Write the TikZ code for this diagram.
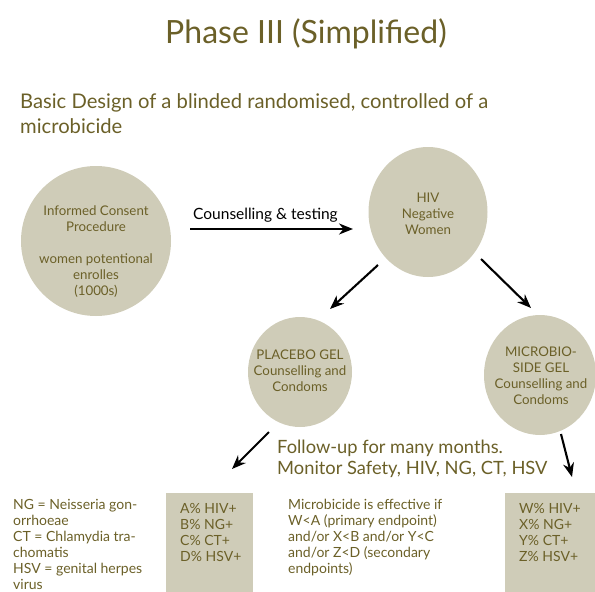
\documentclass[tikz,border=0pt]{standalone}
\usepackage{fontspec}
\setmainfont{Lato}
\usetikzlibrary{arrows.meta,shapes.geometric}
\definecolor{olive}{RGB}{107,96,40}
\definecolor{sand}{RGB}{207,204,184}
\tikzset{
  bubble/.style={ellipse,fill=sand,draw=none,inner sep=0pt},
  btxt/.style={text=olive,align=center,font=\fontsize{13.3}{16}\selectfont,inner sep=0pt},
  arr/.style={line width=2.1pt,-{Stealth[length=14pt,width=11pt]}},
  box/.style={fill=sand,draw=none,inner sep=0pt},
  ltxt/.style={text=olive,align=left,anchor=north west,inner sep=0pt,font=\fontsize{14}{16}\selectfont}
}
\begin{document}
\begin{tikzpicture}[x=1pt,y=-1pt]
\useasboundingbox (0,0) rectangle (595,592);
% title
\node[text=olive,anchor=base,inner sep=0pt,font=\fontsize{32}{36}\selectfont] (title) at (306,43) {Phase III (Simplified)};
\node[text=olive,anchor=base west,inner sep=0pt,font=\fontsize{20.2}{25}\selectfont] (sub1) at (20,108) {Basic Design of a blinded randomised, controlled of a};
\node[text=olive,anchor=base west,inner sep=0pt,font=\fontsize{20.2}{25}\selectfont] (sub2) at (20,133) {microbicide};
% bubbles
\node[bubble,minimum width=150pt,minimum height=150pt] (c1) at (96,241) {};
\node[btxt] (t1) at (96,252) {Informed Consent\\Procedure\\[16pt]women potentional\\enrolles\\(1000s)};
\node[bubble,minimum width=119pt,minimum height=130pt] (c2) at (428,212) {};
\node[btxt] (t2) at (428,214) {HIV\\Negative\\Women};
\node[bubble,minimum width=104pt,minimum height=110pt] (c3) at (300,372) {};
\node[btxt] (t3) at (300,371) {PLACEBO GEL\\Counselling and\\Condoms};
\node[bubble,minimum width=112pt,minimum height=120pt] (c4) at (540,375) {};
\node[btxt] (t4) at (541,376) {MICROBIO-\\SIDE GEL\\Counselling and\\Condoms};
% arrows
\coordinate (a1s) at (190,229);
\coordinate (a1e) at (353,229);
\draw[arr] (a1s) -- (a1e);
\node[anchor=base west,inner sep=0pt,font=\fontsize{15.5}{17}\selectfont] (lab1) at (193,219) {Counselling \& testing};
\coordinate (a2s) at (378,265);
\coordinate (a2e) at (330,309);
\draw[arr] (a2s) -- (a2e);
\coordinate (a3s) at (481,259);
\coordinate (a3e) at (531,308);
\draw[arr] (a3s) -- (a3e);
\coordinate (a4s) at (269,432);
\coordinate (a4e) at (232,469);
\draw[arr] (a4s) -- (a4e);
\coordinate (a5s) at (561,434);
\coordinate (a5e) at (572,477);
\draw[arr] (a5s) -- (a5e);
% follow-up
\node[text=olive,anchor=base west,inner sep=0pt,font=\fontsize{18.3}{20}\selectfont] (fu1) at (277,453) {Follow-up for many months.};
\node[text=olive,anchor=base west,inner sep=0pt,font=\fontsize{18.3}{20}\selectfont] (fu2) at (277,474) {Monitor Safety, HIV, NG, CT, HSV};
% boxes
\path[box] (166,493) rectangle (253,592);
\path[box] (505,493) rectangle (595,592);
\node[ltxt] (b1) at (180,503) {A\% HIV+\\B\% NG+\\C\% CT+\\D\% HSV+};
\node[ltxt] (b2) at (519,503) {W\% HIV+\\X\% NG+\\Y\% CT+\\Z\% HSV+};
\node[ltxt] (leg) at (13,499) {NG = Neisseria gon-\\orrhoeae\\CT = Chlamydia tra-\\chomatis\\HSV = genital herpes\\virus};
\node[ltxt] (eff) at (288,499) {Microbicide is effective if\\W<A (primary endpoint)\\and/or X<B and/or Y<C\\and/or Z<D (secondary\\endpoints)};
\end{tikzpicture}
\end{document}
